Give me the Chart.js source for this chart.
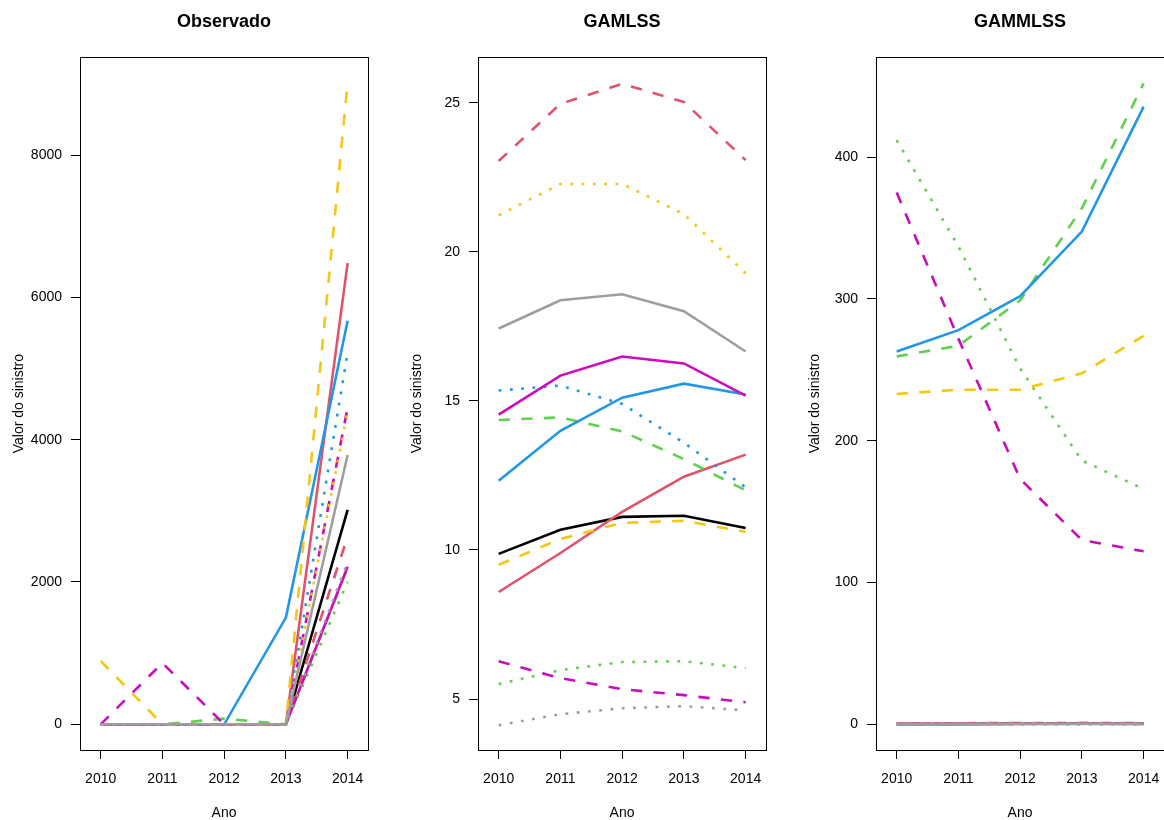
<!DOCTYPE html>
<html>
<head>
<meta charset="utf-8">
<script src="https://cdn.jsdelivr.net/npm/chart.js@4/dist/chart.umd.min.js"></script>
<style>
html, body { margin: 0; padding: 0; background: #fff; overflow: hidden; width: 1164px; height: 820px; }
.painel { position: absolute; top: 0; width: 388px; height: 820px; }
</style>
</head>
<body>
<div class="painel" style="left:0px"><canvas id="g1" width="388" height="820"></canvas></div>
<div class="painel" style="left:398px"><canvas id="g2" width="388" height="820"></canvas></div>
<div class="painel" style="left:796px"><canvas id="g3" width="388" height="820"></canvas></div>
<script>
// anos do eixo x
const anos = [2010, 2011, 2012, 2013, 2014];

// grupos (uma linha por grupo, mesma ordem nos tres paineis)
const grupos = ['G1', 'G2', 'G3', 'G4', 'G5', 'G6', 'G7', 'G8', 'G9', 'G10', 'G11', 'G12', 'G13'];

// valores observados
const observado = [
    [0, 0, 0, 0, 3012],
    [0, 0, 0, 0, 6480],
    [0, 0, 0, 0, 2636],
    [0, 0, 80, 0, 2200],
    [0, 0, 0, 0, 2000],
    [0, 0, 0, 1500, 5670],
    [0, 0, 0, 0, 5222],
    [0, 0, 0, 0, 2215],
    [0, 862, 0, 0, 4450],
    [890, 0, 0, 0, 9010],
    [0, 0, 0, 0, 4400],
    [0, 0, 0, 0, 2285],
    [0, 0, 0, 0, 3785],
];

// ajuste GAMLSS
const gamlss = [
    [9.87, 10.68, 11.11, 11.15, 10.74],
    [8.59, 9.9, 11.28, 12.46, 13.2],
    [23.05, 24.97, 25.64, 25.03, 23.08],
    [14.36, 14.45, 13.98, 13.05, 12.0],
    [5.5, 5.97, 6.24, 6.27, 6.04],
    [12.32, 14.0, 15.11, 15.58, 15.22],
    [15.35, 15.52, 14.9, 13.6, 12.1],
    [14.54, 15.85, 16.49, 16.26, 15.18],
    [6.27, 5.7, 5.33, 5.13, 4.89],
    [9.5, 10.37, 10.91, 10.98, 10.61],
    [21.23, 22.28, 22.28, 21.27, 19.28],
    [4.12, 4.49, 4.69, 4.76, 4.62],
    [17.43, 18.38, 18.58, 18.01, 16.66],
];

// ajuste GAMMLSS
const gammlss = [
    [0.3, 0.3, 0.4, 0.4, 0.4],
    [0.2, 0.3, 0.3, 0.4, 0.4],
    [0.6, 0.8, 0.9, 1.0, 0.9],
    [259.5, 267, 299, 364, 452],
    [412, 337, 251, 186, 166],
    [263, 278, 302, 347.5, 435.6],
    [0.3, 0.3, 0.3, 0.2, 0.2],
    [0.3, 0.3, 0.4, 0.4, 0.3],
    [375, 272, 173, 130, 122],
    [233, 236, 236, 247.5, 274],
    [0.4, 0.4, 0.4, 0.4, 0.3],
    [0.1, 0.1, 0.1, 0.1, 0.1],
    [0.3, 0.3, 0.3, 0.3, 0.3],
];

// marcas do eixo y
const ticksObservado = [0, 2000, 4000, 6000, 8000];
const ticksGamlss = [5, 10, 15, 20, 25];
const ticksGammlss = [0, 100, 200, 300, 400];

// estilos (paleta do R)
const PRETO = '#000000';
const VERMELHO = '#DF536B';
const VERDE = '#61D04F';
const AZUL = '#2297E6';
const MAGENTA = '#CD0BBC';
const AMARELO = '#F5C710';
const CINZA = '#9E9E9E';

const SOLIDA = [];
const TRACEJADA = [11.3, 11.3];
const PONTILHADA = [2.8, 8.5];

const estilos = [
    [PRETO, SOLIDA],
    [VERMELHO, SOLIDA],
    [VERMELHO, TRACEJADA],
    [VERDE, TRACEJADA],
    [VERDE, PONTILHADA],
    [AZUL, SOLIDA],
    [AZUL, PONTILHADA],
    [MAGENTA, SOLIDA],
    [MAGENTA, TRACEJADA],
    [AMARELO, TRACEJADA],
    [AMARELO, PONTILHADA],
    [CINZA, PONTILHADA],
    [CINZA, SOLIDA],
];

Chart.defaults.font.family = '"Liberation Sans", Arial, sans-serif';
Chart.defaults.font.size = 14;
Chart.defaults.color = '#000';

// caixa em volta da area do grafico (como box() do R)
const caixa = {
    id: 'caixa',
    afterDraw(chart) {
        const a = chart.chartArea;
        const ctx = chart.ctx;
        ctx.save();
        ctx.strokeStyle = '#000';
        ctx.lineWidth = 1;
        ctx.strokeRect(Math.round(a.left) + 0.5, Math.round(a.top) + 0.5,
            Math.round(a.right - a.left), Math.round(a.bottom - a.top));
        ctx.restore();
    }
};

let grafico = (id, titulo, valores, ticksY, yMin, yMax) => {
    let datasets = valores.map((linha, i) => ({
        label: grupos[i],
        data: anos.map((a, j) => ({ x: a, y: linha[j] })),
        borderColor: estilos[i][0],
        borderDash: estilos[i][1],
        borderWidth: 2.6,
        borderCapStyle: 'butt',
        pointRadius: 0,
        tension: 0,
        fill: false,
        order: valores.length - i,
    }));

    return new Chart(document.getElementById(id), {
        type: 'line',
        data: { datasets: datasets },
        plugins: [caixa],
        options: {
            responsive: false,
            animation: false,
            layout: { padding: { left: 0, right: 20, top: 0, bottom: 0 } },
            plugins: {
                legend: { display: false },
                tooltip: { enabled: false },
                title: {
                    display: true,
                    text: titulo,
                    fullSize: false,
                    font: { size: 18, weight: 'bold' },
                    padding: { top: 11, bottom: 24.7 },
                },
            },
            scales: {
                x: {
                    type: 'linear',
                    min: 2009.665,
                    max: 2014.33,
                    afterBuildTicks: s => { s.ticks = anos.map(v => ({ value: v })); },
                    afterFit: s => { s.height = 70; },
                    ticks: { callback: v => String(v), padding: 12, maxRotation: 0, autoSkip: false },
                    grid: { drawOnChartArea: false, tickLength: 9, color: '#000' },
                    border: { display: true, color: '#000', width: 1 },
                    title: { display: true, text: 'Ano', font: { lineHeight: 1.0 }, padding: { top: 0, bottom: 0 } },
                },
                y: {
                    type: 'linear',
                    min: yMin,
                    max: yMax,
                    afterBuildTicks: s => { s.ticks = ticksY.map(v => ({ value: v })); },
                    afterFit: s => { s.width = 80; },
                    ticks: { callback: v => String(v), padding: 9, autoSkip: false },
                    grid: { drawOnChartArea: false, tickLength: 9, color: '#000' },
                    border: { display: true, color: '#000', width: 1 },
                    title: { display: true, text: 'Valor do sinistro', padding: { top: 11, bottom: 0 } },
                },
            },
        },
    });
};

grafico('g1', 'Observado', observado, ticksObservado, -361, 9373);
grafico('g2', 'GAMLSS', gamlss, ticksGamlss, 3.29, 26.53);
grafico('g3', 'GAMMLSS', gammlss, ticksGammlss, -18.1, 470.4);
</script>
</body>
</html>
